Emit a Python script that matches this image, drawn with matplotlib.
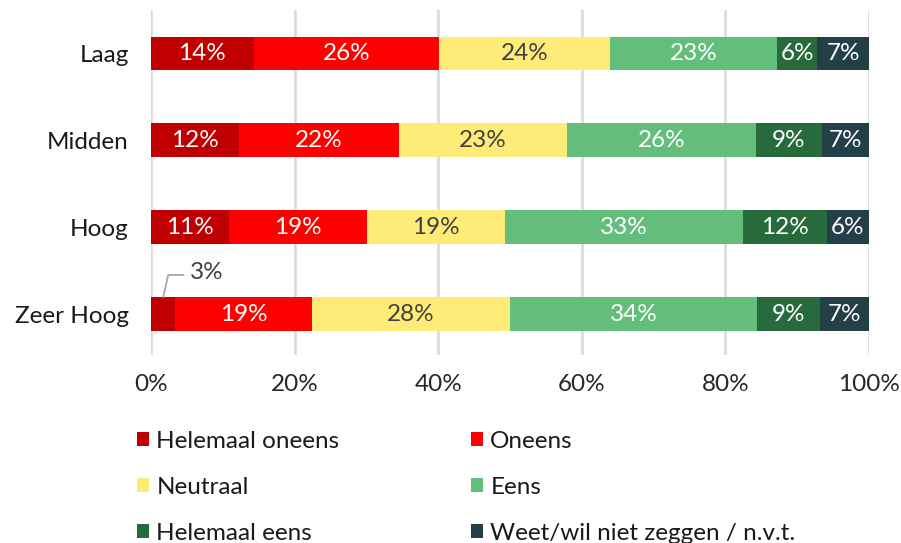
import matplotlib.pyplot as plt
import numpy as np

plt.rcParams["font.family"] = ["Lato", "DejaVu Sans"]

# --- data (share in %) ---
groups = ["Laag", "Midden", "Hoog", "Zeer Hoog"]
answers = ["Helemaal oneens", "Oneens", "Neutraal", "Eens",
           "Helemaal eens", "Weet/wil niet zeggen / n.v.t."]
helemaal_oneens = [14.3, 12.3, 10.9, 3.4]
oneens = [25.8, 22.2, 19.2, 19.0]
neutraal = [23.8, 23.4, 19.2, 27.6]
eens = [23.3, 26.4, 33.2, 34.4]
helemaal_eens = [5.6, 9.1, 11.6, 8.8]
weet_niet = [7.2, 6.6, 5.9, 6.8]
xticks = [0, 20, 40, 60, 80, 100]

series = [helemaal_oneens, oneens, neutraal, eens, helemaal_eens, weet_niet]
colors = ["#C00000", "#FF0000", "#FFEB78", "#63BE7B", "#276B3C", "#233F48"]
label_colors = ["white", "white", "#404040", "white", "white", "white"]
FS = 17.5

fig = plt.figure(figsize=(9.01, 5.43), dpi=100)
ax = fig.add_axes([151 / 901, 1 - 355 / 543, 718 / 901, 345 / 543])

y = np.arange(len(groups))
left = np.zeros(len(groups))
containers = []
for vals, col, lcol, name in zip(series, colors, label_colors, answers):
    vals = np.array(vals)
    bars = ax.barh(y, vals, left=left, height=0.39, color=col,
                   edgecolor="none", label=name, zorder=2)
    containers.append(bars)
    for yi, (l, v) in enumerate(zip(left, vals)):
        txt = f"{round(v):.0f}%"
        if v < 5:
            # small segment: label above with leader line
            x0 = l + v / 2
            ax.plot([x0, x0 + 0.7, x0 + 2.8], [yi - 0.2, yi - 0.45, yi - 0.45],
                    color="#A6A6A6", lw=1.3, zorder=3, clip_on=False)
            ax.text(x0 + 3.7, yi - 0.48, txt, ha="left", va="center",
                    fontsize=FS, color="#404040")
        else:
            ax.text(l + v / 2, yi, txt, ha="center", va="center",
                    fontsize=FS, color=lcol, zorder=4)
    left = left + vals

ax.set_xlim(0, 100)
ax.set_ylim(3.47, -0.5)
ax.set_yticks(y)
ax.set_yticklabels(groups, fontsize=FS, color="#1a1a1a")
ax.set_xticks(xticks)
ax.set_xticklabels([f"{t}%" for t in xticks], fontsize=FS, color="#262626")
ax.tick_params(axis="both", length=0)
ax.tick_params(axis="y", pad=16)
ax.tick_params(axis="x", pad=14)
for s in ax.spines.values():
    s.set_visible(False)
ax.xaxis.grid(True, color="#D9D9D9", lw=1.8, zorder=0)
ax.set_axisbelow(True)

# legend, row-major order in two columns
order = [0, 2, 4, 1, 3, 5]
fig.legend([containers[i] for i in order], [answers[i] for i in order],
           ncol=2, loc="upper left", bbox_to_anchor=(137 / 901, 1 - 431 / 543),
           frameon=False, fontsize=FS, handlelength=0.5, handleheight=0.5,
           handletextpad=0.3, labelspacing=1.02, columnspacing=5.4,
           borderpad=0, borderaxespad=0, labelcolor="#1a1a1a")

fig.savefig("out.png", dpi=100, facecolor="white")
